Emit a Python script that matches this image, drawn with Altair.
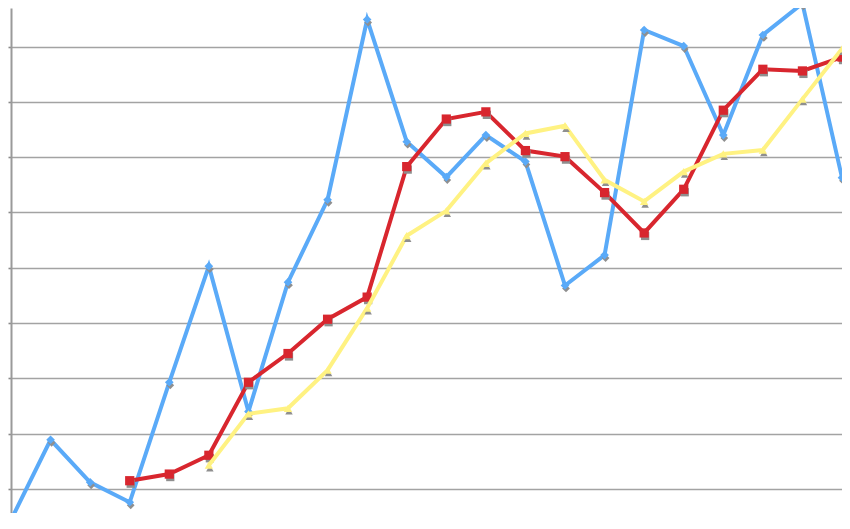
import altair as alt
import pandas as pd

idx = list(range(22))
blue = [4.4, 18.9, 11.2, 7.6, 29.3, 50.3, 24.0, 47.4, 62.3, 94.9, 72.8, 66.4,
        74.0, 69.2, 46.8, 52.3, 93.0, 90.1, 74.0, 92.1, 97.8, 66.3]
red = [None, None, None, 11.5, 12.7, 16.1, 29.3, 34.5, 40.7, 44.7, 68.3, 76.9,
       78.2, 71.2, 70.1, 63.6, 56.3, 64.2, 78.5, 85.9, 85.6, 88.1]
yellow = [None, None, None, None, None, 14.3, 23.6, 24.6, 31.5, 42.7, 55.8, 60.3,
          68.9, 74.3, 75.7, 65.9, 62.0, 67.4, 70.6, 71.3, 80.5, 89.6]
grid_values = [10, 20, 30, 40, 50, 60, 70, 80, 90]


def frame(vals):
    df = pd.DataFrame({"i": idx, "v": vals})
    return df.dropna()


xs = alt.X("i:Q", scale=alt.Scale(domain=[0, 21], nice=False, zero=False), axis=None)
ys_axis = alt.Y(
    "v:Q",
    scale=alt.Scale(domain=[5.66, 96.98], nice=False, zero=False),
    axis=alt.Axis(values=grid_values, labels=False, title=None, grid=True,
                  gridColor="#a3a3a3", gridWidth=1.6, domainColor="#9a9a9a",
                  domainWidth=2, tickColor="#8a8a8a", tickSize=3, tickWidth=1.6),
)
ys = alt.Y("v:Q", scale=alt.Scale(domain=[5.66, 96.98], nice=False, zero=False))

layers = []
series = [
    (blue, "#5aaaf8", "diamond", 75),
    (red, "#d8262e", "square", 85),
    (yellow, "#fff282", "triangle-up", 70),
]
first = True
for vals, col, shape, size in series:
    df = frame(vals)
    base = alt.Chart(df)
    line = base.mark_line(color=col, strokeWidth=4, clip=False).encode(
        x=xs, y=ys_axis if first else ys)
    first = False
    shadow = base.mark_point(shape=shape, size=size * 0.8, filled=True, color="#8f8f8f",
                             opacity=1, xOffset=1, yOffset=3, clip=False).encode(x=xs, y=ys)
    pt = base.mark_point(shape=shape, size=size, filled=True, color=col,
                         opacity=1, clip=False).encode(x=xs, y=ys)
    layers += [line, shadow, pt]

chart = alt.layer(*layers).properties(
    width=831, height=505,
    autosize=alt.AutoSizeParams(type="none"),
    padding={"left": 3, "top": 0, "right": 0, "bottom": 0},
    background="white",
).configure_view(stroke=None)

chart.save("out.html", embed_options={"renderer": "svg", "actions": False})
